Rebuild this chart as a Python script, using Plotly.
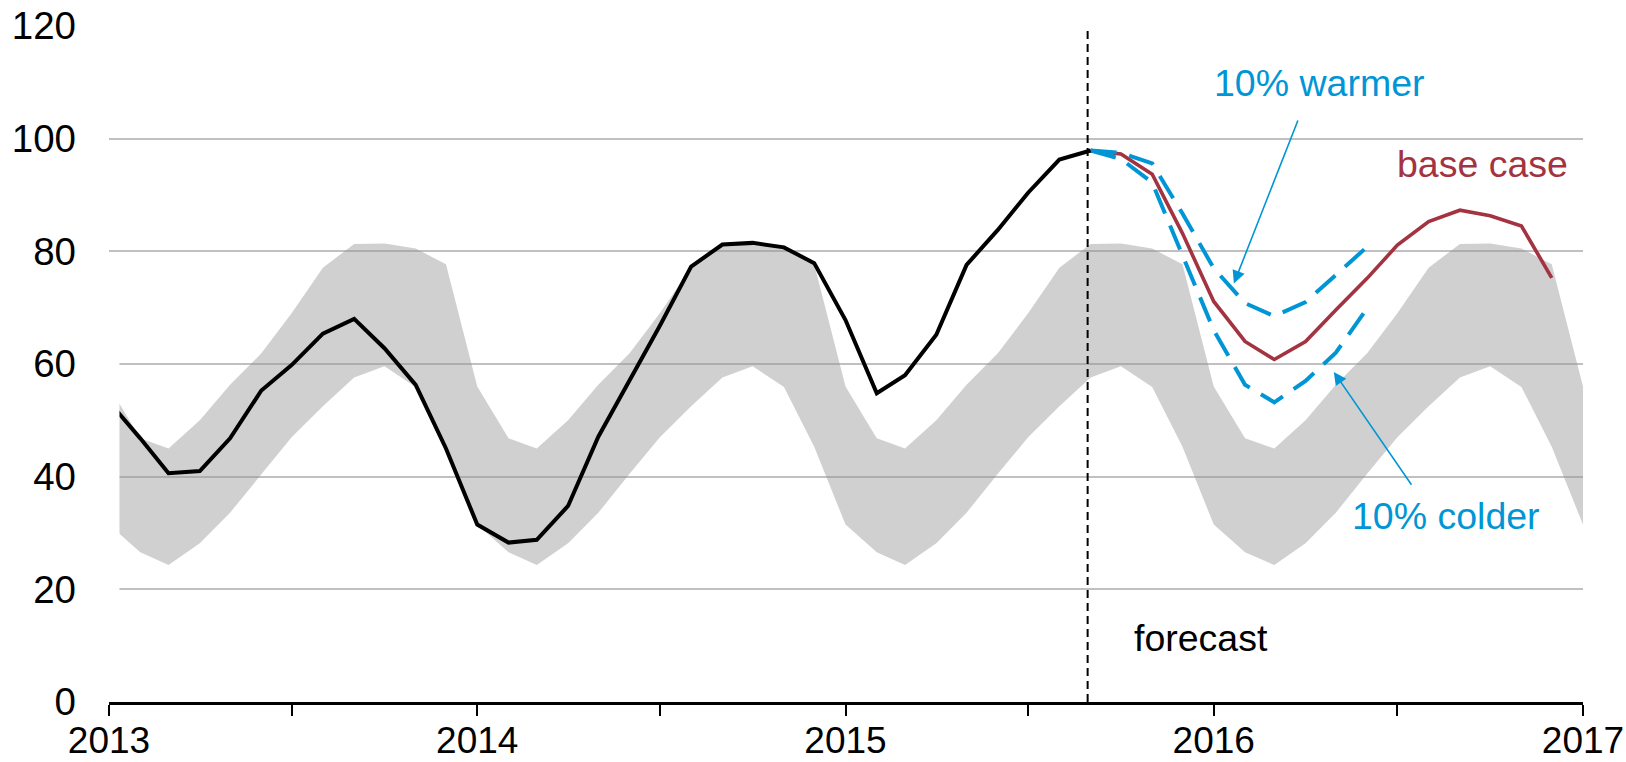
import plotly.graph_objects as go
import pandas as pd

# ---- data ----
hist_start = "2013-01-01"
hist_values = [53.3, 46.8, 40.6, 41.0, 46.8, 55.3, 59.8, 65.4, 68.0, 62.8, 56.3, 45.0,
               31.5, 28.3, 28.8, 34.8, 47.1, 57.0, 66.8, 77.3, 81.2, 81.5, 80.7, 77.9,
               67.8, 54.8, 58.0, 65.2, 77.6, 83.8, 90.4, 96.3, 97.9]

fc_start = "2015-09-01"
base_case = [97.9, 97.3, 93.7, 83.2, 71.1, 64.0, 60.8, 64.0, 69.6, 75.2, 81.1, 85.3,
             87.3, 86.3, 84.5, 75.3]
warmer = [97.9, 97.5, 95.6, 86.7, 77.0, 70.8, 68.5, 71.0, 75.8, 80.8]
colder = [97.9, 96.4, 92.2, 79.5, 66.0, 56.3, 53.2, 57.0, 62.0, 69.9]

# five-year range band, by calendar month (Jan..Dec), same each year
band_upper_month = [56.0, 46.8, 45.0, 50.0, 56.3, 61.9, 69.0, 77.1, 81.3, 81.4, 80.5, 77.7]
band_lower_month = [31.5, 26.6, 24.3, 28.2, 33.6, 40.5, 47.0, 52.5, 57.6, 59.6, 55.9, 45.3]
band_years = [2013, 2014, 2015, 2016]

y_ticks = [0, 20, 40, 60, 80, 100, 120]
x_tick_years = ["2013", "2014", "2015", "2016", "2017"]

# ---- build series ----
hist_x = pd.date_range(hist_start, periods=len(hist_values), freq="MS")
base_x = pd.date_range(fc_start, periods=len(base_case), freq="MS")
warm_x = pd.date_range(fc_start, periods=len(warmer), freq="MS")
cold_x = pd.date_range(fc_start, periods=len(colder), freq="MS")

band_x = list(pd.date_range("2013-01-01", periods=len(band_years) * 12 + 1, freq="MS"))
band_up = band_upper_month * len(band_years) + band_upper_month[:1]
band_lo = band_lower_month * len(band_years) + band_lower_month[:1]

BLUE = "#0096d6"
RED = "#a33340"
FONT = "Liberation Sans, Arial, sans-serif"

fig = go.Figure()
fig.add_trace(go.Scatter(x=band_x, y=band_lo, mode="lines", line=dict(width=0),
                         hoverinfo="skip", showlegend=False))
fig.add_trace(go.Scatter(x=band_x, y=band_up, mode="lines", line=dict(width=0),
                         fill="tonexty", fillcolor="rgba(150,150,150,0.45)",
                         hoverinfo="skip", showlegend=False))
fig.add_trace(go.Scatter(x=base_x, y=base_case, mode="lines",
                         line=dict(color=RED, width=3.6), showlegend=False))
fig.add_trace(go.Scatter(x=warm_x, y=warmer, mode="lines",
                         line=dict(color=BLUE, width=4, dash="26px,13px"), showlegend=False))
fig.add_trace(go.Scatter(x=cold_x, y=colder, mode="lines",
                         line=dict(color=BLUE, width=4, dash="26px,13px"), showlegend=False))
fig.add_trace(go.Scatter(x=hist_x, y=hist_values, mode="lines",
                         line=dict(color="black", width=4), showlegend=False))

# vertical forecast divider
fig.add_shape(type="line", xref="x", yref="y", x0="2015-08-29", x1="2015-08-29",
              y0=0, y1=120, line=dict(color="black", width=2, dash="8px,5px"))
# white strip at far left (as in reference)
fig.add_shape(type="rect", xref="paper", yref="y", x0=0, x1=0.0071, y0=0.5, y1=70,
              fillcolor="white", line=dict(width=0), layer="above")

ann_font = dict(family=FONT, size=37.5)
fig.add_annotation(x="2015-10-12", y=11.4, text="forecast", showarrow=False,
                   xanchor="left", yanchor="middle", font=dict(ann_font, color="black"))
fig.add_annotation(x="2016-09-23", y=95.5, text="base case", showarrow=False,
                   xanchor="center", yanchor="middle", font=dict(ann_font, color=RED))
fig.add_annotation(x="2016-04-14", y=109.9, text="10% warmer", showarrow=False,
                   xanchor="center", yanchor="middle", font=dict(ann_font, color=BLUE))
fig.add_annotation(x="2016-08-18", y=33.1, text="10% colder", showarrow=False,
                   xanchor="center", yanchor="middle", font=dict(ann_font, color=BLUE))
# arrows
fig.add_annotation(x="2016-01-21", y=74.3, ax="2016-03-25", ay=103.5,
                   xref="x", yref="y", axref="x", ayref="y", text="",
                   showarrow=True, arrowhead=2, arrowsize=1.6, arrowwidth=1.6,
                   arrowcolor=BLUE)
fig.add_annotation(x="2016-04-29", y=58.6, ax="2016-07-16", ay=38.3,
                   xref="x", yref="y", axref="x", ayref="y", text="",
                   showarrow=True, arrowhead=2, arrowsize=1.6, arrowwidth=1.6,
                   arrowcolor=BLUE)

fig.update_layout(
    width=1626, height=762,
    margin=dict(l=108.5, r=42.5, t=26, b=60, autoexpand=False),
    paper_bgcolor="white", plot_bgcolor="white",
    font=dict(family=FONT, size=37, color="black"),
    showlegend=False,
)
fig.update_xaxes(
    type="date", range=["2013-01-01", "2017-01-01"], automargin=False,
    tickmode="array", tickvals=[f"{y}-01-01" for y in x_tick_years], ticktext=x_tick_years,
    ticks="outside", ticklen=11, tickwidth=2, tickcolor="black",
    showline=True, linecolor="black", linewidth=2.5,
    showgrid=False, zeroline=False, ticklabelstandoff=-7,
    minor=dict(tickmode="array", tickvals=[f"{y}-07-01" for y in x_tick_years[:-1]],
               ticks="outside", ticklen=11, tickwidth=2, tickcolor="black", showgrid=False),
    tickfont=dict(family=FONT, size=37, color="black"),
)
fig.update_yaxes(
    range=[0, 120], tickmode="array", tickvals=y_ticks, automargin=False,
    showgrid=True, gridcolor="#c0c0c0", gridwidth=1.6,
    zeroline=False, showline=False, ticks="", ticklabelstandoff=32,
    tickfont=dict(family=FONT, size=38.5, color="black"),
)

fig.write_html("out.html", config={"displayModeBar": False},
               post_script="document.body.style.margin='0';document.body.style.overflow='hidden';")
